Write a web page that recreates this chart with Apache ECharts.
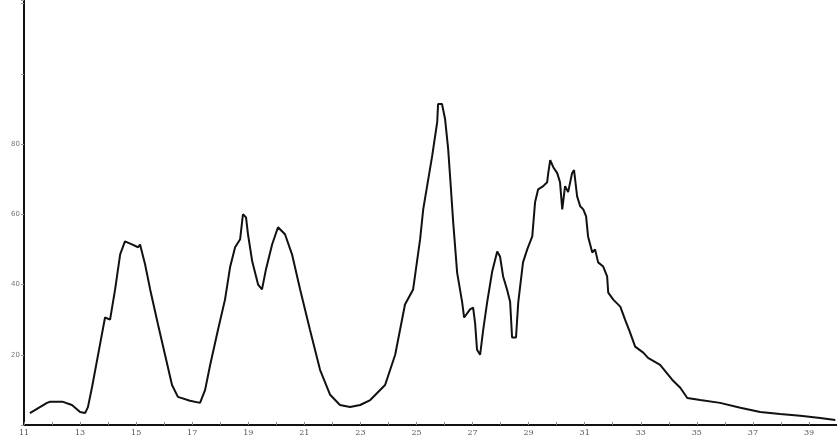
<!DOCTYPE html>
<html>
<head>
<meta charset="utf-8">
<script src="https://cdn.jsdelivr.net/npm/echarts@6/dist/echarts.min.js"></script>
<style>
  html, body { margin: 0; padding: 0; background: #fff; }
  #chart { width: 837px; height: 442px; }
</style>
</head>
<body>
<div id="chart"></div>
<script>
// trace (x = position, y = signal)
var xValues = [11.21, 11.82, 11.93, 12.39, 12.71, 13.00, 13.18, 13.28, 13.43, 13.71,
  13.89, 14.07, 14.25, 14.43, 14.60, 14.85, 15.07, 15.14, 15.32, 15.50,
  15.78, 16.03, 16.28, 16.49, 16.92, 17.28, 17.46, 17.64, 17.92, 18.17,
  18.35, 18.53, 18.71, 18.81, 18.92, 18.99, 19.14, 19.35, 19.49, 19.63,
  19.85, 20.06, 20.31, 20.56, 20.85, 21.20, 21.56, 21.92, 22.27, 22.63,
  22.99, 23.35, 23.88, 24.24, 24.59, 24.88, 25.13, 25.24, 25.56, 25.74,
  25.77, 25.91, 26.02, 26.13, 26.20, 26.31, 26.45, 26.63, 26.70, 26.91,
  27.02, 27.09, 27.16, 27.27, 27.38, 27.52, 27.70, 27.88, 27.98, 28.09,
  28.23, 28.34, 28.41, 28.55, 28.63, 28.80, 28.95, 29.13, 29.23, 29.34,
  29.52, 29.66, 29.70, 29.77, 29.88, 30.02, 30.12, 30.20, 30.30, 30.41,
  30.55, 30.62, 30.73, 30.84, 30.95, 31.05, 31.12, 31.27, 31.37, 31.48,
  31.66, 31.80, 31.84, 32.02, 32.27, 32.44, 32.62, 32.80, 33.09, 33.26,
  33.69, 34.12, 34.41, 34.66, 35.12, 35.83, 36.55, 37.26, 37.97, 38.69,
  39.40, 39.94];
var yValues = [3.4, 6.3, 6.6, 6.6, 5.7, 3.7, 3.4, 5.1, 10.9, 22.9,
  30.6, 30.0, 38.6, 48.6, 52.3, 51.4, 50.6, 51.4, 45.7, 38.6,
  28.6, 20.0, 11.4, 8.0, 6.9, 6.3, 10.0, 17.1, 27.1, 35.7,
  44.9, 50.6, 52.9, 60.0, 59.1, 54.3, 46.6, 40.0, 38.6, 44.3,
  51.4, 56.3, 54.3, 48.6, 38.6, 27.1, 15.7, 8.6, 5.7, 5.1,
  5.7, 7.1, 11.4, 20.0, 34.3, 38.6, 52.9, 61.4, 76.6, 86.3,
  91.4, 91.4, 87.1, 78.6, 70.6, 57.7, 43.4, 34.9, 30.6, 32.9,
  33.4, 29.1, 21.4, 20.0, 27.1, 34.9, 43.7, 49.4, 48.0, 42.3,
  38.6, 35.1, 24.9, 24.9, 34.9, 46.3, 50.0, 53.7, 63.4, 67.1,
  68.0, 69.1, 71.7, 75.4, 73.4, 71.7, 69.1, 61.4, 68.0, 66.3,
  71.7, 72.6, 65.1, 62.3, 61.4, 59.4, 53.7, 49.1, 50.0, 46.3,
  45.1, 42.3, 37.7, 35.7, 33.7, 30.0, 26.3, 22.3, 20.6, 19.1,
  17.1, 12.9, 10.6, 7.7, 7.1, 6.3, 4.9, 3.7, 3.1, 2.6,
  2.0, 1.4];
var yTickLabels = [20, 40, 60, 80];

var seriesData = xValues.map(function (x, i) { return [x, yValues[i]]; });

var chart = echarts.init(document.getElementById('chart'));
var option = {
  animation: false,
  backgroundColor: '#fff',
  grid: { left: 24, right: 0, top: 0, bottom: 17 },
  xAxis: {
    type: 'value',
    min: 11,
    max: 40,
    interval: 1,
    axisLine: { show: true, lineStyle: { color: '#111', width: 2 } },
    axisTick: { show: true, length: 3, inside: true, lineStyle: { color: '#888' } },
    axisLabel: {
      fontSize: 8,
      color: '#555',
      margin: 4,
      fontFamily: 'DejaVu Serif',
      showMaxLabel: false,
      formatter: function (v) { return v % 2 === 1 ? String(v) : ''; }
    },
    splitLine: { show: false }
  },
  yAxis: {
    type: 'value',
    min: 0,
    max: 121,
    interval: 20,
    axisLine: { show: true, lineStyle: { color: '#111', width: 2 } },
    axisTick: { show: true, length: 3, inside: false, lineStyle: { color: '#999' } },
    axisLabel: {
      fontSize: 7,
      color: '#777',
      margin: 4,
      fontFamily: 'DejaVu Sans',
      formatter: function (v) { return yTickLabels.indexOf(v) >= 0 ? String(v) : ''; }
    },
    splitLine: { show: false }
  },
  series: [{
    type: 'line',
    data: seriesData,
    showSymbol: false,
    symbol: 'none',
    lineStyle: { color: '#111', width: 2 }
  }]
};
chart.setOption(option);
</script>
</body>
</html>
